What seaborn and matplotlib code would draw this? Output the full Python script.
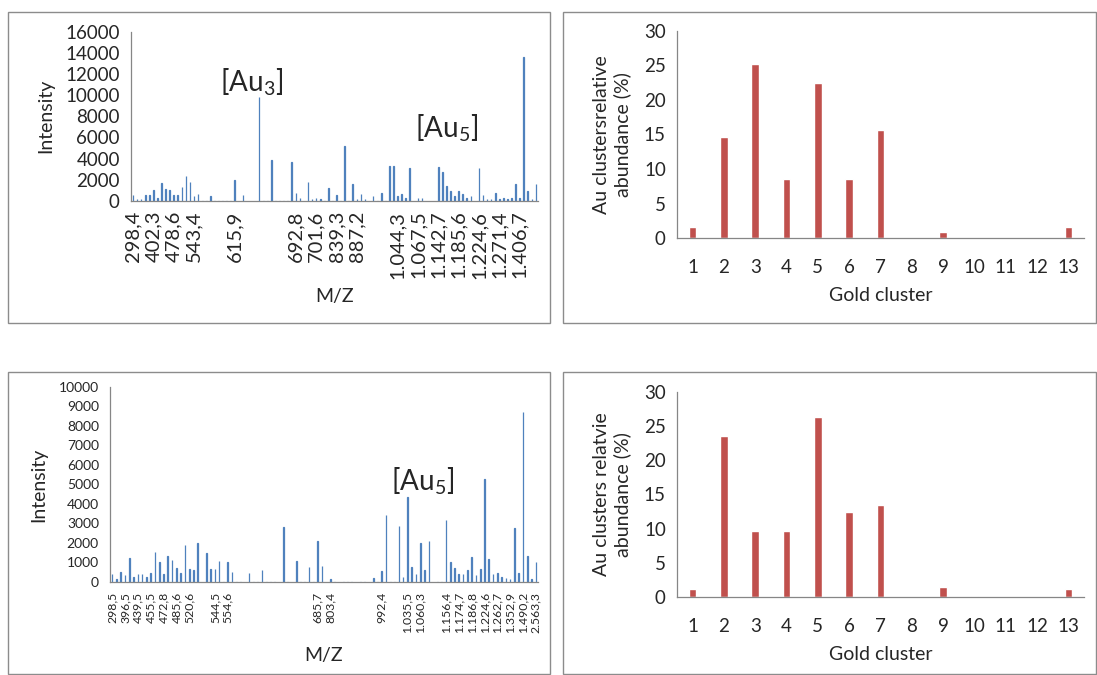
import numpy as np
import pandas as pd
import seaborn as sns
import matplotlib.pyplot as plt
from matplotlib.patches import Rectangle

# top spectrum: intensity in each m/z bin (100 bins, Excel category axis)
spec1_intensity = [560, 190, 190, 560, 560, 1000, 280, 1690, 1090, 1000,
                   560, 560, 1280, 2400, 1780, 470, 660, 0, 0, 470,
                   0, 0, 0, 0, 0, 1970, 0, 560, 0, 0,
                   0, 9850, 0, 0, 3900, 0, 0, 0, 0, 3720,
                   780, 280, 0, 1780, 190, 280, 190, 0, 1190, 0,
                   560, 0, 5150, 0, 1590, 190, 680, 190, 0, 440,
                   0, 780, 0, 3310, 3310, 440, 660, 280, 3090, 0,
                   250, 250, 0, 0, 0, 3220, 2720, 1375, 900, 470,
                   970, 660, 280, 470, 0, 3090, 560, 190, 190, 780,
                   190, 280, 190, 280, 1620, 320, 13600, 900, 200, 1600]
# label shown every 5th bin (blank = no label)
spec1_labels = ["298,4", "402,3", "478,6", "543,4", "", "615,9", "", "",
                "692,8", "701,6", "839,3", "887,2", "", "1.044,3", "1.067,5",
                "1.142,7", "1.185,6", "1.224,6", "1.271,4", "1.406,7"]

# bottom spectrum
spec2_intensity = [400, 140, 520, 345, 1240, 240, 400, 400, 240, 465,
                   1520, 1000, 400, 1345, 1120, 740, 465, 1910, 690, 590,
                   1980, 0, 1465, 655, 690, 1070, 0, 1020, 520, 0,
                   0, 0, 465, 0, 0, 590, 0, 0, 0, 0,
                   2810, 0, 0, 1070, 0, 0, 790, 0, 2085, 845,
                   0, 170, 0, 0, 0, 0, 0, 0, 0, 0,
                   0, 225, 0, 570, 3410, 0, 0, 2860, 275, 4360,
                   790, 400, 2020, 620, 2120, 0, 0, 0, 3170, 1050,
                   740, 400, 400, 620, 1275, 345, 670, 5290, 1170, 400,
                   450, 275, 225, 170, 2790, 450, 8700, 1350, 150, 1000]
# label shown every 3rd bin
spec2_labels = ["298,5", "396,5", "439,5", "455,5", "472,8", "485,6", "520,6",
                "", "544,5", "554,6", "", "", "", "", "", "",
                "685,7", "803,4", "", "", "", "992,4", "", "1.035,5", "1.060,3",
                "", "1.156,4", "1.174,7", "1.186,8", "1.224,6", "1.262,7",
                "1.352,9", "1.490,2", "2.563,3"]

clusters = [1, 2, 3, 4, 5, 6, 7, 8, 9, 10, 11, 12, 13]
abund1 = [1.6, 14.6, 25.2, 8.6, 22.5, 8.6, 15.7, 0, 0.8, 0.05, 0, 0, 1.6]
abund2 = [1.1, 23.6, 9.7, 9.7, 26.4, 12.5, 13.5, 0, 1.5, 0.1, 0, 0, 1.1]

sns.set_style("white")
plt.rcParams['font.family'] = ['Lato', 'DejaVu Sans']
plt.rcParams['mathtext.fontset'] = 'custom'
plt.rcParams['mathtext.rm'] = 'Lato'

blue = "#4F81BD"
red = "#C0504D"
grey = "#868686"

fig = plt.figure(figsize=(10.97, 6.75), dpi=100)

# Excel chart-area frames
for x0, y0, x1, y1 in [(8, 12, 550, 323), (563, 12, 1096, 323),
                       (8, 372, 550, 674), (563, 372, 1096, 674)]:
    fig.patches.append(Rectangle((x0 / 1097, 1 - y1 / 675), (x1 - x0) / 1097,
                                 (y1 - y0) / 675, transform=fig.transFigure,
                                 fill=False, edgecolor="#8c8c8c", lw=1))


def excel_axes(ax):
    sns.despine(ax=ax)
    for s in ["left", "bottom"]:
        ax.spines[s].set_color(grey)
        ax.spines[s].set_linewidth(0.9)
    ax.tick_params(which="major", direction="out", color=grey, length=5, width=0.9)


def spectrum(ax, vals, labels, step, ymax, ystep, yfs, xfs):
    df = pd.DataFrame({"bin": range(len(vals)), "intensity": vals})
    sns.barplot(data=df, x="bin", y="intensity", color=blue, width=0.15,
                saturation=1, edgecolor=blue, linewidth=0.9, ax=ax)
    excel_axes(ax)
    n = len(vals)
    ax.set_xlim(-0.5, n - 0.5)
    ax.set_ylim(0, ymax)
    ax.set_yticks(np.arange(0, ymax + 1, ystep))
    ax.tick_params(axis="y", labelsize=yfs, pad=3)
    ax.set_xticks(np.arange(-0.5, n, 10), labels=[""] * len(np.arange(-0.5, n, 10)))
    ax.set_xticks(np.arange(0, n, step), labels=labels, minor=True)
    ax.tick_params(axis="x", which="minor", length=0, labelsize=xfs,
                   labelrotation=90, pad=7)
    ax.set_ylabel("Intensity", fontsize=14, labelpad=8)


def abundance(ax, vals, ylabel):
    sns.barplot(x=clusters, y=vals, color=red, width=0.24, saturation=1, ax=ax)
    excel_axes(ax)
    ax.set_xlim(-0.5, 12.5)
    ax.set_ylim(0, 30)
    ax.set_yticks(np.arange(0, 31, 5))
    ax.tick_params(axis="y", labelsize=13.5, pad=3)
    ax.set_xticks(np.arange(-0.5, 13, 1), labels=[""] * 14)
    ax.tick_params(axis="x", which="major", length=6)
    ax.set_xticks(range(13), labels=[str(c) for c in clusters], minor=True)
    ax.tick_params(axis="x", which="minor", length=0, labelsize=13.5, pad=15)
    ax.set_xlabel("Gold cluster", fontsize=14, labelpad=8)
    ax.set_ylabel(ylabel, fontsize=14, labelpad=9, linespacing=1.2)


ax1 = fig.add_axes([0.1194, 0.7022, 0.371, 0.2511])
spectrum(ax1, spec1_intensity, spec1_labels, 5, 16000, 2000, 13.5, 14.5)
ax1.set_xlabel("M/Z", fontsize=14, labelpad=7)
ax1.text(0.297, 0.70, "[Au$_\\mathregular{3}$]", transform=ax1.transAxes,
         fontsize=20, ha="center", va="center")
ax1.text(0.776, 0.43, "[Au$_\\mathregular{5}$]", transform=ax1.transAxes,
         fontsize=20, ha="center", va="center")

ax2 = fig.add_axes([0.1003, 0.1378, 0.3901, 0.2889])
spectrum(ax2, spec2_intensity, spec2_labels, 3, 10000, 1000, 10, 8.8)
ax2.set_xlabel("M/Z", fontsize=14, labelpad=10)
ax2.text(0.731, 0.518, "[Au$_\\mathregular{5}$]", transform=ax2.transAxes,
         fontsize=20, ha="center", va="center")

ax3 = fig.add_axes([0.6171, 0.6474, 0.371, 0.3067])
abundance(ax3, abund1, "Au clustersrelative\nabundance (%)")

ax4 = fig.add_axes([0.6171, 0.1156, 0.371, 0.3037])
abundance(ax4, abund2, "Au clusters relatvie\nabundance (%)")

fig.savefig("out.png", dpi=100)
